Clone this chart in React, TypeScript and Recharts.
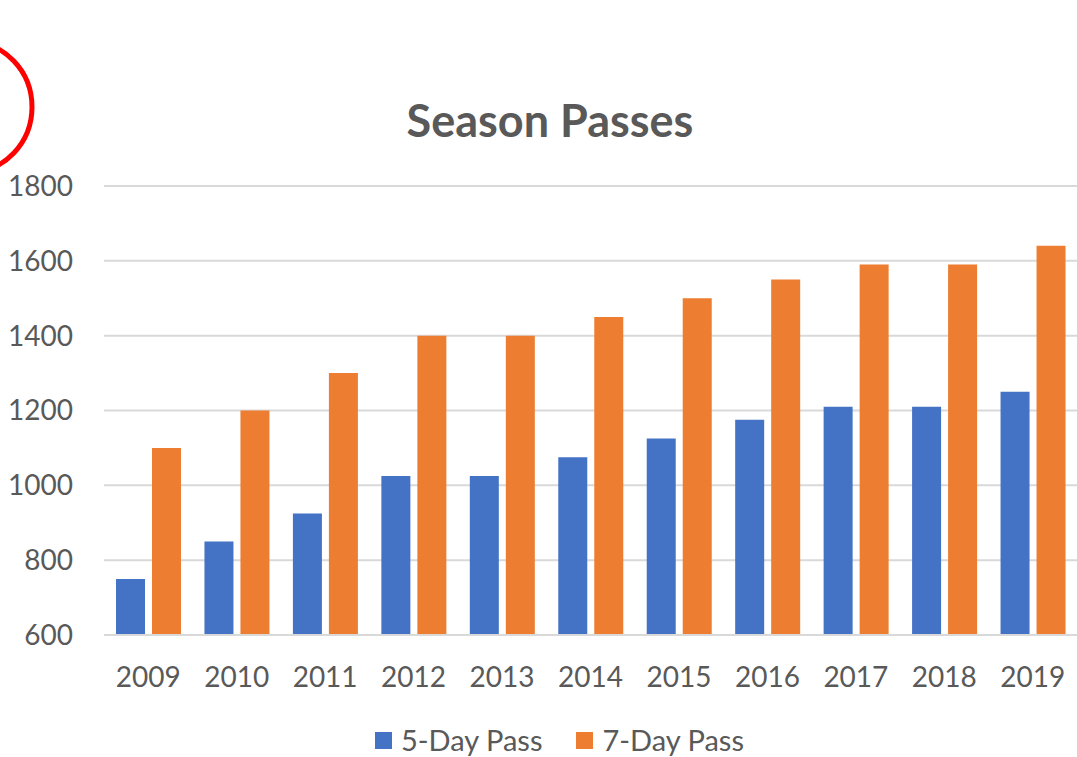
import { BarChart, Bar, XAxis, YAxis, CartesianGrid, Legend } from "recharts";

const years = ["2009", "2010", "2011", "2012", "2013", "2014", "2015", "2016", "2017", "2018", "2019"];
const fiveDayPass = [750, 850, 925, 1025, 1025, 1075, 1125, 1175, 1210, 1210, 1250];
const sevenDayPass = [1100, 1200, 1300, 1400, 1400, 1450, 1500, 1550, 1590, 1590, 1640];
const yTicks = [600, 800, 1000, 1200, 1400, 1600, 1800];

const data = years.map((year, i) => ({
  year,
  five: fiveDayPass[i],
  seven: sevenDayPass[i],
}));

const FONT = "Lato, 'Noto Sans', sans-serif";
const GRAY = "#595959";

const LegendContent = ({ payload }: any) => (
  <div style={{ display: "flex", paddingLeft: 375, height: 62, alignItems: "center", paddingTop: 28, boxSizing: "border-box" }}>
    {(payload || []).map((entry: any, i: number) => (
      <div key={i} style={{ display: "flex", alignItems: "center", marginRight: 34 }}>
        <span style={{ display: "inline-block", width: 17, height: 17, background: entry.color, marginRight: 9 }} />
        <span style={{ fontSize: 29, color: GRAY, fontFamily: FONT, lineHeight: "30px" }}>{entry.value}</span>
      </div>
    ))}
  </div>
);

export default function App() {
  return (
    <div
      style={{
        position: "fixed",
        left: 0,
        top: 0,
        width: 1077,
        height: 757,
        background: "#fff",
        overflow: "hidden",
        fontFamily: FONT,
      }}
    >
      {/* red annotation circle at top-left */}
      <svg width={1077} height={757} style={{ position: "absolute", left: 0, top: 0 }}>
        <ellipse cx={-30} cy={107} rx={62} ry={65} fill="none" stroke="#ff0000" strokeWidth={5} />
      </svg>

      <div
        style={{
          position: "absolute",
          left: 0,
          width: 1100,
          top: 92,
          textAlign: "center",
          fontSize: 45,
          fontWeight: 700,
          color: GRAY,
          lineHeight: "56px",
        }}
      >
        Season Passes
      </div>

      <div style={{ position: "absolute", left: 0, top: 0 }}>
        <BarChart
          width={1077}
          height={757}
          data={data}
          margin={{ top: 186, right: 0, bottom: 0, left: 0 }}
          barSize={29}
          barGap={7}
        >
          <CartesianGrid vertical={false} stroke="#d9d9d9" strokeWidth={2} />
          <XAxis
            dataKey="year"
            height={60}
            tickSize={0}
            tickMargin={32}
            axisLine={{ stroke: "#d9d9d9", strokeWidth: 2 }}
            tickLine={false}
            tick={{ fontSize: 28, fill: GRAY, fontFamily: FONT }}
          />
          <YAxis
            width={104}
            domain={[600, 1800]}
            ticks={yTicks}
            tickSize={0}
            tickMargin={31}
            axisLine={false}
            tickLine={false}
            tick={{ fontSize: 28, fill: GRAY, fontFamily: FONT }}
          />
          <Legend verticalAlign="bottom" content={<LegendContent />} wrapperStyle={{ height: 62 }} />
          <Bar dataKey="five" name="5-Day Pass" fill="#4472C4" isAnimationActive={false} />
          <Bar dataKey="seven" name="7-Day Pass" fill="#ED7D31" isAnimationActive={false} />
        </BarChart>
      </div>
    </div>
  );
}
